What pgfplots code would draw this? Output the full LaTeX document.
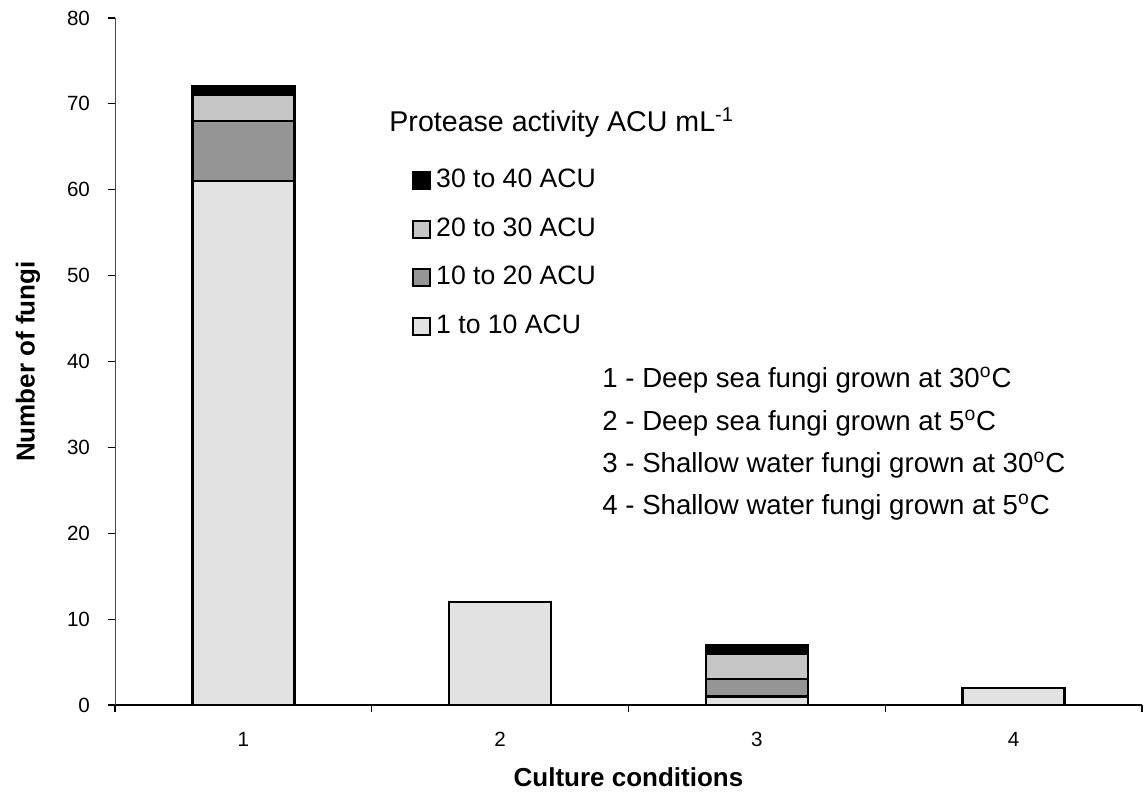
\documentclass[border=0pt]{standalone}
\usepackage{fontspec}
\setmainfont{Liberation Sans}
\usepackage{pgfplots}
\pgfplotsset{compat=1.18}
\definecolor{cA}{HTML}{E2E2E2}
\definecolor{cB}{HTML}{959595}
\definecolor{cC}{HTML}{C6C6C6}
\definecolor{cD}{HTML}{000000}
\pgfplotsset{sqleg/.style={legend image code/.code={\draw[##1, line width=1pt] (0pt,-4.2pt) rectangle (8.4pt,4.2pt);}}}
\begin{document}
\begin{tikzpicture}
\path[use as bounding box] (0,0) rectangle (571.5pt,397.5pt);
\begin{axis}[
  at={(57.5pt,45pt)}, anchor=south west,
  scale only axis, width=513.5pt, height=343.5pt,
  ybar stacked, bar width=51pt,
  xmin=0.5, xmax=4.5, ymin=0, ymax=80,
  axis lines*=left,
  x axis line style={-, line width=0.9pt},
  y axis line style={-, line width=0.5pt, draw=black!70},
  xtick={1,2,3,4}, major x tick style={draw=none},
  minor xtick={0.5,1.5,2.5,3.5,4.5},
  ytick={0,10,...,80},
  tick align=outside, major tick length=3.5pt, minor tick length=3.5pt,
  tick style={black, line width=0.6pt},
  /pgf/number format/assume math mode=true,
  ticklabel style={font=\fontsize{10.3}{12}\selectfont},
  yticklabel style={xshift=-5.5pt},
  xticklabel style={yshift=-6.5pt},
  xlabel={Culture conditions}, ylabel={Number of fungi},
  label style={font=\fontsize{13}{15}\selectfont\bfseries},
  xlabel style={at={(axis description cs:0.5,-0.1048)}, anchor=center},
  ylabel style={at={(axis description cs:-0.0847,0.5)}, anchor=center},
  legend style={draw=none, fill=none, at={(axis description cs:0.2892,0.781)}, anchor=north west,
    font=\fontsize{13.3}{15}\selectfont, row sep=12.25pt, inner sep=0pt,
    nodes={inner xsep=2.5pt, inner ysep=0pt, text height=9.5pt, text depth=2.5pt}},
  legend cell align=left,
  reverse legend,
  every axis plot/.append style={draw=black, line width=1.2pt},
]
\addplot[fill=cA, sqleg] coordinates {(1,61) (2,12) (3,1) (4,2)};
\addlegendentry{1 to 10 ACU}
\addplot[fill=cB, sqleg] coordinates {(1,7) (2,0) (3,2) (4,0)};
\addlegendentry{10 to 20 ACU}
\addplot[fill=cC, sqleg] coordinates {(1,3) (2,0) (3,3) (4,0)};
\addlegendentry{20 to 30 ACU}
\addplot[fill=cD, sqleg] coordinates {(1,1) (2,0) (3,1) (4,0)};
\addlegendentry{30 to 40 ACU}
\end{axis}
\node[anchor=base west, inner sep=0pt, font=\fontsize{14.3}{16}\selectfont] at (194.5pt,331.5pt) {Protease activity ACU mL\textsuperscript{-1}};
\begin{scope}[every node/.style={anchor=base west, inner sep=0pt, font=\fontsize{13.8}{16}\selectfont}]
\node at (301pt,203.5pt) {1 - Deep sea fungi grown at 30\textsuperscript{o}C};
\node at (301pt,182pt) {2 - Deep sea fungi grown at 5\textsuperscript{o}C};
\node at (301pt,161.25pt) {3 - Shallow water fungi grown at 30\textsuperscript{o}C};
\node at (301pt,140pt) {4 - Shallow water fungi grown at 5\textsuperscript{o}C};
\end{scope}
\end{tikzpicture}
\end{document}
